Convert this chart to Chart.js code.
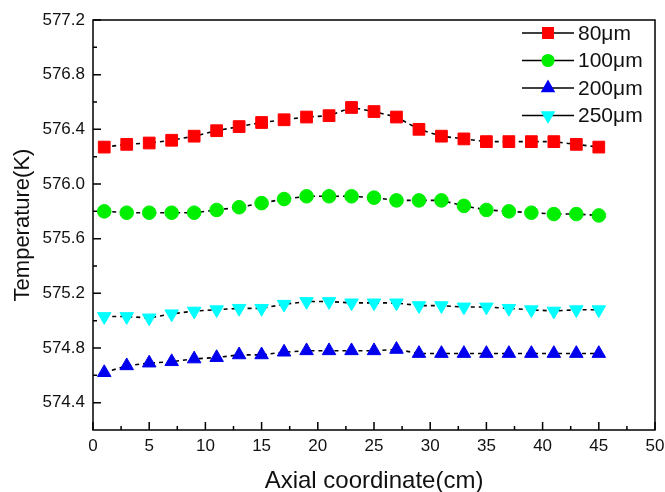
<!DOCTYPE html>
<html>
<head>
<meta charset="utf-8">
<script src="https://cdn.jsdelivr.net/npm/chart.js"></script>
<style>
  body { margin: 0; background: #fff; }
</style>
</head>
<body>
<canvas id="myChart" width="665" height="492"></canvas>
<script>
// positions along the channel (cm)
var axial = [1, 3, 5, 7, 9, 11, 13, 15, 17, 19, 21, 23, 25, 27, 29, 31, 33, 35, 37, 39, 41, 43, 45];

var seriesNames = ['80\u03bcm', '100\u03bcm', '200\u03bcm', '250\u03bcm'];

var t80 = [576.27, 576.29, 576.30, 576.32, 576.35, 576.39, 576.42, 576.45, 576.47, 576.49, 576.50, 576.56,
  576.53, 576.49, 576.40, 576.35, 576.33, 576.31, 576.31, 576.31, 576.31, 576.29, 576.27];
var t100 = [575.80, 575.79, 575.79, 575.79, 575.79, 575.81, 575.83, 575.86, 575.89, 575.91, 575.91, 575.91,
  575.90, 575.88, 575.88, 575.88, 575.84, 575.81, 575.80, 575.79, 575.78, 575.78, 575.77];
var t200 = [574.62, 574.67, 574.69, 574.70, 574.72, 574.73, 574.75, 574.75, 574.77, 574.78, 574.78, 574.78,
  574.78, 574.79, 574.76, 574.76, 574.76, 574.76, 574.76, 574.76, 574.76, 574.76, 574.76];
var t250 = [575.03, 575.03, 575.02, 575.05, 575.07, 575.08, 575.09, 575.09, 575.12, 575.14, 575.14, 575.13,
  575.13, 575.13, 575.11, 575.11, 575.10, 575.10, 575.09, 575.08, 575.07, 575.08, 575.08];

var yTicks = [574.4, 574.8, 575.2, 575.6, 576.0, 576.4, 576.8, 577.2];
var yMinor = [574.6, 575.0, 575.4, 575.8, 576.2, 576.6, 577.0];
var xMinor = [2.5, 7.5, 12.5, 17.5, 22.5, 27.5, 32.5, 37.5, 42.5, 47.5];

function pts(vals) {
  return vals.map(function (v, i) { return { x: axial[i], y: v }; });
}

function makeSet(label, vals, color, style, radius, rotation) {
  return {
    label: label,
    data: pts(vals),
    borderColor: '#000',
    borderWidth: 1.6,
    borderDash: [4, 4],
    pointStyle: style,
    pointRadius: radius,
    pointRotation: rotation || 0,
    pointBackgroundColor: color,
    pointBorderColor: color,
    pointBorderWidth: 1
  };
}

var font = "'Liberation Sans', Arial, sans-serif";

// frame, inward ticks and legend
var framePlugin = {
  id: 'frame',
  afterDraw: function (chart) {
    var ctx = chart.ctx;
    var a = chart.chartArea;
    var xs = chart.scales.x, ys = chart.scales.y;
    ctx.save();
    ctx.strokeStyle = '#000';
    ctx.lineWidth = 1.5;
    ctx.strokeRect(a.left, a.top, a.right - a.left, a.bottom - a.top);

    ctx.beginPath();
    xs.ticks.forEach(function (t) {
      var px = xs.getPixelForValue(t.value);
      ctx.moveTo(px, a.bottom); ctx.lineTo(px, a.bottom - 8);
    });
    xMinor.forEach(function (v) {
      var px = xs.getPixelForValue(v);
      ctx.moveTo(px, a.bottom); ctx.lineTo(px, a.bottom - 4);
    });
    yTicks.forEach(function (v) {
      var py = ys.getPixelForValue(v);
      ctx.moveTo(a.left, py); ctx.lineTo(a.left + 8, py);
    });
    yMinor.forEach(function (v) {
      var py = ys.getPixelForValue(v);
      ctx.moveTo(a.left, py); ctx.lineTo(a.left + 4, py);
    });
    ctx.stroke();

    // legend
    chart.data.datasets.forEach(function (ds, i) {
      var y = a.top + 13 + i * 27.5;
      var x0 = a.right - 133, x1 = a.right - 81, xm = a.right - 107;
      ctx.strokeStyle = '#000';
      ctx.lineWidth = 1.6;
      ctx.setLineDash([]);
      ctx.beginPath();
      ctx.moveTo(x0, y); ctx.lineTo(x1, y);
      ctx.stroke();
      ctx.fillStyle = ds.pointBackgroundColor;
      ctx.strokeStyle = ds.pointBorderColor;
      Chart.helpers.drawPoint(ctx, {
        pointStyle: ds.pointStyle,
        radius: ds.pointRadius - 1,
        rotation: ds.pointRotation,
        borderWidth: 1
      }, xm, y);
      ctx.fillStyle = '#111';
      ctx.font = '21px ' + font;
      ctx.textAlign = 'left';
      ctx.textBaseline = 'middle';
      ctx.fillText(ds.label, a.right - 77, y + 1);
    });
    ctx.restore();
  }
};

var ctx = document.getElementById('myChart').getContext('2d');

var myChart = new Chart(ctx, {
  type: 'line',
  data: {
    datasets: [
      makeSet(seriesNames[0], t80, '#ff0000', 'rect', 8.3),
      makeSet(seriesNames[1], t100, '#00ee00', 'circle', 6.8),
      makeSet(seriesNames[2], t200, '#0000ee', 'triangle', 7.8),
      makeSet(seriesNames[3], t250, '#00ffff', 'triangle', 7.8, 180)
    ]
  },
  options: {
    responsive: false,
    animation: false,
    layout: { padding: { top: 20, right: 10, left: 0, bottom: 0 } },
    plugins: {
      legend: { display: false },
      tooltip: { enabled: false }
    },
    scales: {
      x: {
        type: 'linear',
        min: 0,
        max: 50,
        grid: { display: false, drawTicks: false },
        border: { display: false },
        ticks: {
          stepSize: 5,
          padding: 6,
          color: '#111',
          font: { family: font, size: 17 }
        },
        title: {
          display: true,
          text: 'Axial coordinate(cm)',
          color: '#111',
          font: { family: font, size: 24 },
          padding: { top: 2, bottom: -4 }
        },
        afterFit: function (s) {
          s.height = 62;
          s.paddingLeft = 0;
          s.paddingRight = 0;
        }
      },
      y: {
        type: 'linear',
        min: 574.2,
        max: 577.2,
        grid: { display: false, drawTicks: false },
        border: { display: false },
        afterBuildTicks: function (s) {
          s.ticks = yTicks.map(function (v) { return { value: v }; });
        },
        ticks: {
          padding: 8,
          color: '#111',
          font: { family: font, size: 17 },
          callback: function (v) { return Number(v).toFixed(1); }
        },
        title: {
          display: true,
          text: 'Temperature(K)',
          color: '#111',
          font: { family: font, size: 22 },
          padding: { top: 10, bottom: 4 }
        },
        afterFit: function (s) {
          s.width = 93;
          s.paddingTop = 0;
          s.paddingBottom = 0;
        }
      }
    }
  },
  plugins: [framePlugin]
});
</script>
</body>
</html>
